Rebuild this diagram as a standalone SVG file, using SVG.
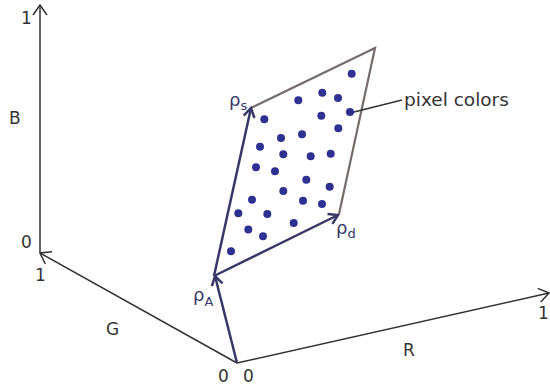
<svg xmlns="http://www.w3.org/2000/svg" width="550" height="386" viewBox="0 0 550 386">
<style>
.ax{stroke:#333;stroke-width:1.5;fill:none}
.vec{stroke:#383868;stroke-width:2.5;fill:none}
.edge{stroke:#766c6c;stroke-width:2.2;fill:none}
.t{font-family:"DejaVu Sans",sans-serif;font-size:17px;fill:#333}
.r{font-family:"DejaVu Sans",sans-serif;font-size:18px;fill:#383868}
.sub{font-size:13px}
.dot{fill:#2e3192}
</style>
<defs>
<marker id="ah" viewBox="0 0 12 16" refX="11" refY="8" markerWidth="12" markerHeight="16" markerUnits="userSpaceOnUse" orient="auto">
<path d="M1,1 L11,8 L1,15" fill="none" stroke="#333" stroke-width="1.5"/>
</marker>
<marker id="vh" viewBox="0 0 12 14" refX="10" refY="7" markerWidth="12" markerHeight="14" markerUnits="userSpaceOnUse" orient="auto">
<path d="M1,1.5 L10,7 L1,12.5" fill="none" stroke="#383868" stroke-width="2.5"/>
</marker>
</defs>
<g id="axes">
<line class="ax" x1="40" y1="253" x2="40" y2="5" marker-end="url(#ah)"/>
<line class="ax" x1="237" y1="363" x2="40" y2="253" marker-end="url(#ah)"/>
<line class="ax" x1="237" y1="363" x2="549" y2="293" marker-end="url(#ah)"/>
<text class="t" x="21" y="24">1</text>
<text class="t" x="9" y="124">B</text>
<text class="t" x="21" y="248">0</text>
<text class="t" x="35" y="281">1</text>
<text class="t" x="106" y="335">G</text>
<text class="t" x="403" y="356">R</text>
<text class="t" x="538" y="319">1</text>
<text class="t" x="218" y="382">0</text>
<text class="t" x="243" y="382">0</text>
</g>
<g id="connectors">
<polyline class="edge" points="251,108 375,48 339,214"/>
<line class="vec" x1="237" y1="363" x2="215" y2="276" marker-end="url(#vh)"/>
<line class="vec" x1="214" y1="276" x2="251" y2="108" marker-end="url(#vh)"/>
<line class="vec" x1="214" y1="276" x2="338" y2="215" marker-end="url(#vh)"/>
<line stroke="#333" stroke-width="1.5" x1="350" y1="113" x2="402" y2="100"/>
</g>
<g id="dots">
<circle class="dot" cx="351.7" cy="73.7" r="4"/>
<circle class="dot" cx="298.3" cy="100.3" r="4"/>
<circle class="dot" cx="322.3" cy="92.7" r="4"/>
<circle class="dot" cx="338" cy="98" r="4"/>
<circle class="dot" cx="264.3" cy="119.3" r="4"/>
<circle class="dot" cx="321.3" cy="115.7" r="4"/>
<circle class="dot" cx="350" cy="112" r="4"/>
<circle class="dot" cx="338.3" cy="128.3" r="4"/>
<circle class="dot" cx="281" cy="138" r="4"/>
<circle class="dot" cx="302" cy="134.3" r="4"/>
<circle class="dot" cx="260" cy="146.7" r="4"/>
<circle class="dot" cx="283.3" cy="154.3" r="4"/>
<circle class="dot" cx="310.7" cy="156.3" r="4"/>
<circle class="dot" cx="330.7" cy="153.7" r="4"/>
<circle class="dot" cx="256" cy="167.3" r="4"/>
<circle class="dot" cx="275" cy="171.3" r="4"/>
<circle class="dot" cx="306.3" cy="179.7" r="4"/>
<circle class="dot" cx="329.7" cy="186.7" r="4"/>
<circle class="dot" cx="283.3" cy="191" r="4"/>
<circle class="dot" cx="252" cy="199.7" r="4"/>
<circle class="dot" cx="303" cy="200.7" r="4"/>
<circle class="dot" cx="322" cy="204" r="4"/>
<circle class="dot" cx="238.3" cy="213.3" r="4"/>
<circle class="dot" cx="267.3" cy="214" r="4"/>
<circle class="dot" cx="293.7" cy="223" r="4"/>
<circle class="dot" cx="248.3" cy="229.5" r="4"/>
<circle class="dot" cx="263" cy="236.2" r="4"/>
<circle class="dot" cx="231" cy="251.3" r="4"/>
</g>
<g id="labels">
<text class="r" x="229" y="106">ρ<tspan class="sub" dy="4">s</tspan></text>
<text class="r" x="193" y="301">ρ<tspan class="sub" dy="5">A</tspan></text>
<text class="r" x="336" y="234">ρ<tspan class="sub" dy="4">d</tspan></text>
<text class="t" x="404" y="106" style="font-size:18.5px">pixel colors</text>
</g>
</svg>
